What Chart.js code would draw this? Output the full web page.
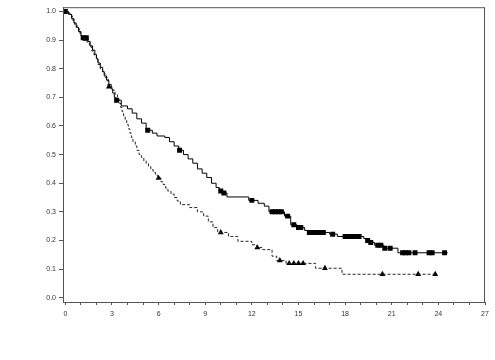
<!DOCTYPE html>
<html>
<head>
<meta charset="utf-8">
<script src="https://cdn.jsdelivr.net/npm/chart.js@4"></script>
<style>
  html, body { margin: 0; padding: 0; background: #fff; }
  #wrap { width: 495px; height: 360px; }
</style>
</head>
<body>
<div id="wrap"><canvas id="kmChart" width="495" height="360"></canvas></div>
<script>
// group A (solid line, square censor marks)
const timesA = [0, 0.2, 0.4, 0.55, 0.7, 0.85, 1.0, 1.1, 1.45, 1.6, 1.75, 1.9, 2.0, 2.1, 2.25, 2.4, 2.5, 2.65, 2.8, 2.95,
  3.05, 3.15, 3.25, 3.6, 4.0, 4.3, 4.6, 4.9, 5.2, 5.6, 5.9, 6.4, 6.7, 7.0, 7.3, 7.6, 7.9, 8.2, 8.5, 8.8,
  9.1, 9.4, 9.7, 9.9, 10.1, 10.4, 11.8, 12.4, 12.8, 13.1, 14.1, 14.5, 14.9, 15.4, 15.6, 17.0, 17.5, 19.2, 19.4, 19.6,
  19.9, 20.5, 21.4, 24.6];
const survA = [1.0, 0.99, 0.975, 0.96, 0.945, 0.93, 0.915, 0.908, 0.895, 0.88, 0.865, 0.85, 0.835, 0.82, 0.805, 0.79, 0.775, 0.76, 0.745, 0.73,
  0.715, 0.70, 0.69, 0.67, 0.66, 0.645, 0.625, 0.61, 0.585, 0.575, 0.565, 0.56, 0.545, 0.53, 0.515, 0.50, 0.485, 0.47, 0.45, 0.435,
  0.42, 0.40, 0.385, 0.373, 0.366, 0.352, 0.34, 0.33, 0.32, 0.30, 0.285, 0.255, 0.245, 0.235, 0.228, 0.222, 0.214, 0.207, 0.20, 0.193,
  0.183, 0.173, 0.157, 0.157];
const censorTimesA = [0, 1.15, 1.35, 3.3, 5.3, 7.35, 10.0, 10.2, 12.0, 13.3, 13.5, 13.7, 13.9, 14.3, 14.7, 15.0, 15.15,
  15.7, 15.9, 16.1, 16.3, 16.6, 17.2, 18.0, 18.2, 18.4, 18.6, 18.9, 19.45, 19.65, 20.1, 20.3, 20.55, 20.9,
  21.7, 21.9, 22.1, 22.5, 23.4, 23.6, 24.4];
const censorSurvA = [1.0, 0.908, 0.908, 0.69, 0.585, 0.515, 0.373, 0.366, 0.34, 0.30, 0.30, 0.30, 0.30, 0.285, 0.255, 0.245, 0.245,
  0.228, 0.228, 0.228, 0.228, 0.228, 0.222, 0.214, 0.214, 0.214, 0.214, 0.214, 0.20, 0.193, 0.183, 0.183, 0.173, 0.173,
  0.157, 0.157, 0.157, 0.157, 0.157, 0.157, 0.157];

// group B (dashed line, triangle censor marks)
const timesB = [0, 0.15, 0.3, 0.45, 0.6, 0.75, 0.9, 1.05, 1.2, 1.4, 1.55, 1.7, 1.85, 2.0, 2.1, 2.25, 2.4, 2.55, 2.75, 3.0,
  3.2, 3.35, 3.45, 3.55, 3.65, 3.75, 3.85, 3.95, 4.05, 4.15, 4.25, 4.35, 4.5, 4.6, 4.75, 4.9, 5.05, 5.2, 5.35, 5.5,
  5.65, 5.8, 5.95, 6.15, 6.3, 6.45, 6.6, 6.8, 7.0, 7.2, 7.4, 8.0, 8.5, 8.9, 9.2, 9.5, 9.8, 10.5, 11.1, 12.0,
  12.3, 12.7, 13.3, 13.6, 14.2, 16.1, 17.8, 23.8];
const survB = [1.0, 0.995, 0.985, 0.97, 0.955, 0.94, 0.925, 0.912, 0.904, 0.89, 0.877, 0.862, 0.848, 0.832, 0.815, 0.80, 0.785, 0.77, 0.737, 0.725,
  0.71, 0.695, 0.68, 0.665, 0.65, 0.635, 0.62, 0.605, 0.59, 0.575, 0.56, 0.545, 0.53, 0.515, 0.50, 0.49, 0.478, 0.468, 0.458, 0.448,
  0.438, 0.428, 0.418, 0.405, 0.395, 0.383, 0.372, 0.362, 0.35, 0.338, 0.325, 0.315, 0.30, 0.285, 0.265, 0.245, 0.228, 0.214, 0.197, 0.185,
  0.175, 0.168, 0.145, 0.13, 0.12, 0.103, 0.082, 0.082];
const censorTimesB = [1.3, 2.8, 6.0, 10.0, 12.35, 13.8, 14.4, 14.7, 15.0, 15.3, 16.7, 20.4, 22.7, 23.8];
const censorSurvB = [0.904, 0.737, 0.418, 0.228, 0.175, 0.13, 0.12, 0.12, 0.12, 0.12, 0.103, 0.082, 0.082, 0.082];

const xTicks = [0, 1, 2, 3, 4, 5, 6, 7, 8, 9, 10, 11, 12, 13, 14, 15, 16, 17, 18, 19, 20, 21, 22, 23, 24, 25, 26, 27];
const yTicks = [0, 0.1, 0.2, 0.3, 0.4, 0.5, 0.6, 0.7, 0.8, 0.9, 1.0];

function toPoints(xs, ys) {
  return xs.map((x, i) => ({ x: x, y: ys[i] }));
}

// box round the plot area
const frame = {
  id: 'frame',
  afterDraw(chart) {
    const a = chart.chartArea;
    const ctx = chart.ctx;
    ctx.save();
    ctx.strokeStyle = '#555';
    ctx.lineWidth = 1;
    ctx.strokeRect(a.left + 0.5, a.top + 0.5, a.right - a.left - 1, a.bottom - a.top);
    ctx.restore();
  }
};

const tickFont = { family: '"Liberation Sans", Arial, sans-serif', size: 7 };

new Chart(document.getElementById('kmChart'), {
  type: 'line',
  data: {
    datasets: [
      {
        data: toPoints(timesA, survA),
        borderColor: '#000',
        borderWidth: 1,
        stepped: 'before',
        pointRadius: 0,
        fill: false
      },
      {
        data: toPoints(timesB, survB),
        borderColor: '#222',
        borderWidth: 1,
        borderDash: [3, 2],
        stepped: 'before',
        pointRadius: 0,
        fill: false
      },
      {
        data: toPoints(censorTimesA, censorSurvA),
        showLine: false,
        pointStyle: 'rect',
        pointRadius: 3.5,
        backgroundColor: '#000',
        borderColor: '#000',
        borderWidth: 0
      },
      {
        data: toPoints(censorTimesB, censorSurvB),
        showLine: false,
        pointStyle: 'triangle',
        pointRadius: 3.4,
        backgroundColor: '#000',
        borderColor: '#000',
        borderWidth: 0
      }
    ]
  },
  options: {
    responsive: false,
    animation: false,
    layout: { padding: { left: 0, right: 10, top: 5, bottom: 38 } },
    plugins: {
      legend: { display: false },
      tooltip: { enabled: false }
    },
    scales: {
      x: {
        type: 'linear',
        min: -0.15,
        max: 27,
        afterBuildTicks: (s) => { s.ticks = xTicks.map(v => ({ value: v })); },
        afterFit: (s) => { s.height = 20; },
        ticks: {
          autoSkip: false,
          maxRotation: 0,
          color: '#333',
          font: tickFont,
          padding: 5,
          callback: (v) => (v % 3 === 0 ? String(v) : '')
        },
        grid: { drawOnChartArea: false, drawTicks: true, tickLength: 3, color: '#555' },
        border: { display: true, color: '#555' }
      },
      y: {
        type: 'linear',
        min: -0.015,
        max: 1.015,
        afterBuildTicks: (s) => { s.ticks = yTicks.map(v => ({ value: v })); },
        afterFit: (s) => { s.width = 63; },
        ticks: {
          autoSkip: false,
          color: '#333',
          font: tickFont,
          padding: 3,
          callback: (v) => Number(v).toFixed(1)
        },
        grid: { drawOnChartArea: false, drawTicks: true, tickLength: 4, color: '#555' },
        border: { display: true, color: '#555' }
      }
    }
  },
  plugins: [frame]
});
</script>
</body>
</html>
